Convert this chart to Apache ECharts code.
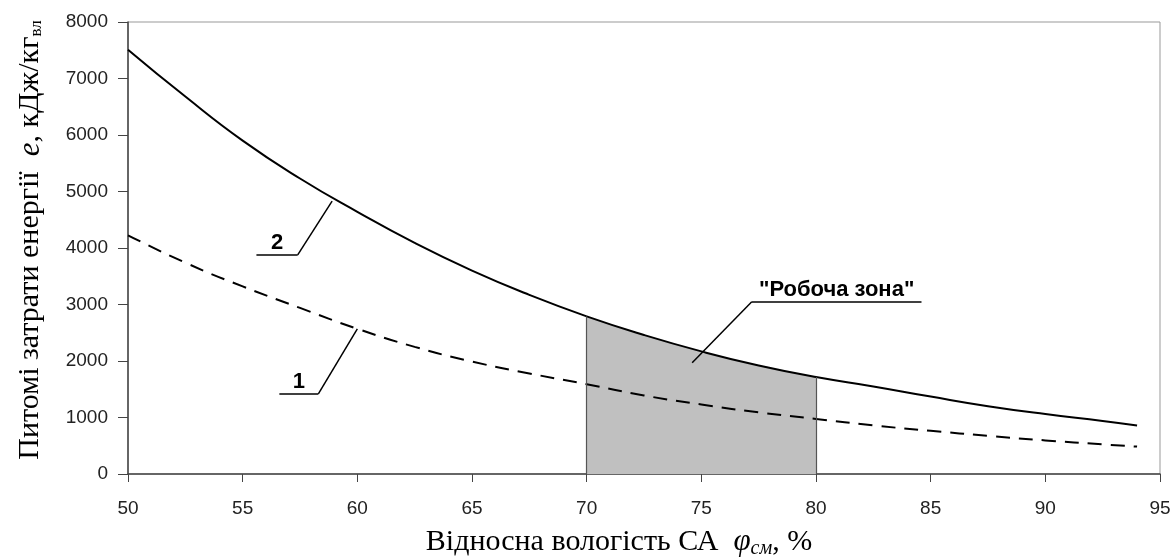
<!DOCTYPE html>
<html>
<head>
<meta charset="utf-8" />
<title>chart</title>
<script src="https://cdn.jsdelivr.net/npm/echarts@6/dist/echarts.min.js"></script>
<style>
  html,
  body {
    margin: 0;
    padding: 0;
    background: #fff;
  }
  .chart {
    width: 1174px;
    height: 558px;
  }
</style>
</head>
<body>
<div id="chart" class="chart"></div>
<script>
// відносна вологість, %
const xVals = [50, 52.5, 55, 57.5, 60, 62.5, 65, 67.5, 70, 72.5, 75, 77.5, 80, 82.5, 85, 87.5, 90, 92.5, 94];
// крива 1 (штрихова)
const curve1 = [4225, 3740, 3320, 2940, 2570, 2250, 1990, 1780, 1590, 1390, 1230, 1090, 975, 860, 765, 675, 595, 525, 485];
// крива 2 (суцільна)
const curve2 = [7510, 6680, 5900, 5230, 4640, 4090, 3600, 3170, 2790, 2460, 2170, 1920, 1715, 1550, 1370, 1200, 1060, 940, 860];
// межі "робочої зони"
const zoneFrom = 70;
const zoneTo = 80;
const yTicks = [0, 1000, 2000, 3000, 4000, 5000, 6000, 7000, 8000];
const xTicks = [50, 55, 60, 65, 70, 75, 80, 85, 90, 95];

const pairs = (ys) => xVals.map((x, i) => [x, ys[i]]);
const zone = pairs(curve2).filter((p) => p[0] >= zoneFrom && p[0] <= zoneTo);
const atX = (ys, x) => ys[xVals.indexOf(x)];

const init = () => {
  const myChart = echarts.init(document.getElementById("chart"));
  const axisColor = "#444";

  // підписи-виноски
  const leaderLabel = {
    show: true,
    position: "middle",
    formatter: "{b}",
    fontFamily: "Liberation Sans",
    fontWeight: "bold",
    fontSize: 22,
    color: "#000",
    distance: 1,
  };

  const option = {
    animation: false,
    backgroundColor: "#fff",
    grid: {
      left: 128,
      right: 14,
      top: 22,
      bottom: 84,
      outerBoundsMode: "none",
      containLabel: false,
      show: true,
      borderColor: "#999",
      borderWidth: 1,
    },
    xAxis: {
      type: "value",
      min: xTicks[0],
      max: xTicks[xTicks.length - 1],
      interval: 5,
      name: "{n|Відносна вологість СА  }{phi|φ}{sub|см}{n|, %}",
      nameLocation: "middle",
      nameGap: 51,
      nameTextStyle: {
        padding: [0, 50, 0, 0],
        rich: {
          n: { fontFamily: "Liberation Serif", fontSize: 30, color: "#000" },
          phi: { fontFamily: "Liberation Serif", fontSize: 31, fontStyle: "italic", color: "#000" },
          sub: {
            fontFamily: "Liberation Serif",
            fontSize: 20,
            fontStyle: "italic",
            color: "#000",
            padding: [14, 0, 0, 0],
          },
        },
      },
      axisLine: { lineStyle: { color: axisColor, width: 1.5 } },
      axisTick: { show: true, length: 8, inside: false, lineStyle: { color: axisColor } },
      axisLabel: { fontFamily: "Liberation Sans", fontSize: 19, color: "#222", margin: 25 },
      splitLine: { show: false },
    },
    yAxis: {
      type: "value",
      min: yTicks[0],
      max: yTicks[yTicks.length - 1],
      interval: 1000,
      name: "{n|Питомі затрати енергії  }{e|e}{n|, кДж/кг}{sub|вл}",
      nameLocation: "middle",
      nameGap: 82,
      nameTextStyle: {
        padding: [0, 0, 0, 16],
        rich: {
          n: { fontFamily: "Liberation Serif", fontSize: 30, color: "#000" },
          e: { fontFamily: "Liberation Serif", fontSize: 31, fontStyle: "italic", color: "#000" },
          sub: {
            fontFamily: "Liberation Serif",
            fontSize: 17,
            color: "#000",
            padding: [12, 0, 0, 0],
          },
        },
      },
      axisLine: { show: true, lineStyle: { color: axisColor, width: 1.5 } },
      axisTick: { show: true, length: 10, inside: false, lineStyle: { color: axisColor } },
      axisLabel: {
        fontFamily: "Liberation Sans",
        fontSize: 19,
        color: "#222",
        margin: 20,
        formatter: (v) => String(v),
      },
      splitLine: { show: false },
    },
    series: [
      {
        name: "зона",
        type: "line",
        data: zone,
        smooth: true,
        showSymbol: false,
        z: 1,
        lineStyle: { width: 0 },
        areaStyle: { color: "#c0c0c0", opacity: 1 },
        markLine: {
          silent: true,
          symbol: "none",
          label: { show: false },
          lineStyle: { color: "#555", width: 1.2, type: "solid" },
          data: [
            [{ coord: [zoneFrom, 0] }, { coord: [zoneFrom, atX(curve2, zoneFrom)] }],
            [{ coord: [zoneTo, 0] }, { coord: [zoneTo, atX(curve2, zoneTo)] }],
          ],
        },
      },
      {
        name: "1",
        type: "line",
        data: pairs(curve1),
        smooth: true,
        showSymbol: false,
        z: 3,
        lineStyle: { color: "#000", width: 2, type: [14, 9] },
        markLine: {
          silent: true,
          symbol: "none",
          lineStyle: { color: "#000", width: 1.5, type: "solid" },
          label: leaderLabel,
          data: [
            [{ coord: [56.6, 1420], name: "1" }, { coord: [58.3, 1420] }],
            [{ coord: [58.3, 1420], name: "" }, { coord: [60, atX(curve1, 60)] }],
          ],
        },
      },
      {
        name: "2",
        type: "line",
        data: pairs(curve2),
        smooth: true,
        showSymbol: false,
        z: 3,
        lineStyle: { color: "#000", width: 2 },
        markLine: {
          silent: true,
          symbol: "none",
          lineStyle: { color: "#000", width: 1.5, type: "solid" },
          label: leaderLabel,
          data: [
            [{ coord: [55.6, 3880], name: "2" }, { coord: [57.4, 3880] }],
            [{ coord: [57.4, 3880], name: "" }, { coord: [58.9, 4830] }],
            [{ coord: [77.2, 3050], name: "\"Робоча зона\"" }, { coord: [84.6, 3050] }],
            [{ coord: [77.2, 3050], name: "" }, { coord: [74.6, 1970] }],
          ],
        },
      },
    ],
  };

  myChart.setOption(option);
  window.onresize = function () {
    myChart.resize();
  };
};

init();
</script>
</body>
</html>
